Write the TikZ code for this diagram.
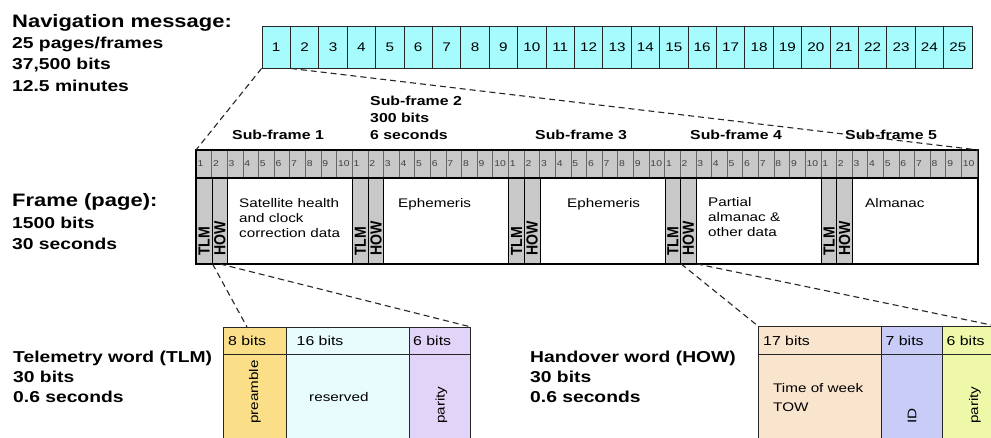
\documentclass[tikz,border=0pt]{standalone}
\usepackage{fontspec}
\setmainfont{Liberation Sans}[FakeStretch=1.22]
\newfontfamily\colfont{Liberation Sans}[FakeStretch=0.88]
\definecolor{topcyan}{HTML}{A6FBFC}
\definecolor{colgray}{HTML}{C8C8C8}
\definecolor{cPre}{HTML}{FADF88}
\definecolor{cRes}{HTML}{E8FCFD}
\definecolor{cTpar}{HTML}{E2D3F8}
\definecolor{cTow}{HTML}{F9E4CD}
\definecolor{cId}{HTML}{CACCF8}
\definecolor{cHpar}{HTML}{EEF8A8}
\begin{document}
\begin{tikzpicture}[x=1pt,y=-1pt,
  topcell/.style={draw=black!85, fill=topcyan, line width=0.9pt, minimum width=28.4pt, minimum height=42pt, inner sep=0pt, font=\fontsize{12.5}{14}\selectfont},
  numcell/.style={draw=black!60, fill=colgray, line width=0.6pt, minimum width=15.62pt, minimum height=28pt, inner ysep=0pt, inner xsep=1.5pt, text width=12.62pt, align=left, font=\fontsize{8.5}{10}\selectfont, text=black!75},
  hdrcol/.style={draw=black, fill=colgray, line width=0.9pt, minimum width=15.62pt, minimum height=85pt, inner sep=0pt, anchor=north west},
  dashline/.style={dash pattern=on 6pt off 4pt, line width=1.1pt, draw=black!85},
  titletext/.style={font=\bfseries\fontsize{18}{22}\selectfont, anchor=base west, inner sep=0pt},
  boldtext/.style={font=\bfseries\fontsize{15.8}{19}\selectfont, anchor=base west, inner sep=0pt},
  sublabel/.style={font=\bfseries\fontsize{13}{16}\selectfont, anchor=base west, inner sep=0pt},
  bodytext/.style={font=\fontsize{12.5}{15}\selectfont, anchor=base west, inner sep=0pt},
  bitstext/.style={font=\fontsize{13}{15}\selectfont, anchor=base west, inner sep=0pt},
  coltext/.style={font=\colfont\bfseries\fontsize{16}{18}\selectfont, rotate=90, anchor=base west, inner sep=0pt},
  rottext/.style={font=\fontsize{12.5}{15}\selectfont, rotate=90, anchor=west, inner sep=0pt},
  bitcell/.style={draw=black!85, line width=1.1pt, inner sep=0pt, anchor=north west}
]
\useasboundingbox (0,0) rectangle (991,437);
\clip (0,0) rectangle (991,437);
\fill[white] (0,0) rectangle (991,437);

% ---- left texts
\node[titletext] (navt) at (12,27) {Navigation message:};
\node[boldtext] (nav1) at (12,48) {25 pages/frames};
\node[boldtext] (nav2) at (12,69.5) {37,500 bits};
\node[boldtext] (nav3) at (12,91) {12.5 minutes};

\node[titletext] (frt) at (12,206.5) {Frame (page):};
\node[boldtext] (fr1) at (12,228) {1500 bits};
\node[boldtext] (fr2) at (12,249.5) {30 seconds};

\node[boldtext] (tl0) at (13,362) {Telemetry word (TLM)};
\node[boldtext] (tl1) at (13,382) {30 bits};
\node[boldtext] (tl2) at (13,402) {0.6 seconds};

\node[boldtext] (hw0) at (530,362) {Handover word (HOW)};
\node[boldtext] (hw1) at (530,382) {30 bits};
\node[boldtext] (hw2) at (530,402) {0.6 seconds};

% ---- top bar of 25 pages
\foreach \i in {1,...,25}
  \node[topcell] (p\i) at ({262+28.4*(\i-0.5)},47) {\i};

% ---- frame
\node[draw=black, fill=white, line width=1.5pt, minimum width=781pt, minimum height=113pt, inner sep=0pt, anchor=north west] (frame) at (196,150) {};
\foreach \s in {0,...,4}{
  \foreach \k in {1,...,10}
    \node[numcell] (n\s-\k) at ({196+156.2*\s+15.62*(\k-0.5)},164) {\k};
  \node[hdrcol] (tlm\s) at ({196+156.2*\s},178) {};
  \node[hdrcol] (how\s) at ({196+156.2*\s+15.62},178) {};
  \node[coltext] (tlmt\s) at ({196+156.2*\s+7.81+5.9},256) {TLM};
  \node[coltext] (howt\s) at ({196+156.2*\s+15.62+7.81+5.9},256) {HOW};
}
\draw[line width=1.2pt] (frame.west |- 0,178) -- (frame.east |- 0,178);
\draw[line width=1.5pt] (frame.north west) rectangle (frame.south east);

% ---- sub-frame labels
\node[sublabel] (sf1) at (232,139.5) {Sub-frame 1};
\node[sublabel] (sf2) at (370,105) {Sub-frame 2};
\node[sublabel] (sf2b) at (370,122.3) {300 bits};
\node[sublabel] (sf2c) at (370,139.5) {6 seconds};
\node[sublabel] (sf3) at (535,139.5) {Sub-frame 3};
\node[sublabel] (sf4) at (690,139.5) {Sub-frame 4};
\node[sublabel] (sf5) at (845,139.5) {Sub-frame 5};

% ---- frame contents
\node[bodytext] (c1a) at (239,207.5) {Satellite health};
\node[bodytext] (c1b) at (239,222.5) {and clock};
\node[bodytext] (c1c) at (239,237.5) {correction data};
\node[bodytext] (c2) at (398,207.5) {Ephemeris};
\node[bodytext] (c3) at (567,207.5) {Ephemeris};
\node[bodytext] (c4a) at (708,206.5) {Partial};
\node[bodytext] (c4b) at (708,221.5) {almanac \&};
\node[bodytext] (c4c) at (708,236.5) {other data};
\node[bodytext] (c5) at (865,207.5) {Almanac};

% ---- TLM word
\node[bitcell, fill=cPre, minimum width=63pt, minimum height=27pt] (preh) at (223,327) {};
\node[bitcell, fill=cRes, minimum width=123pt, minimum height=27pt] (resh) at (286,327) {};
\node[bitcell, fill=cTpar, minimum width=61pt, minimum height=27pt] (tparh) at (409,327) {};
\node[bitcell, fill=cPre, minimum width=63pt, minimum height=95pt] (preb) at (223,354) {};
\node[bitcell, fill=cRes, minimum width=123pt, minimum height=95pt] (resb) at (286,354) {};
\node[bitcell, fill=cTpar, minimum width=61pt, minimum height=95pt] (tparb) at (409,354) {};
\node[bitstext] (b8) at (228,345.5) {8 bits};
\node[bitstext] (b16) at (296.5,345.5) {16 bits};
\node[bitstext] (b6a) at (413,345.5) {6 bits};
\node[rottext] (tpre) at (255,424) {preamble};
\node[bodytext] (tres) at (309,401) {reserved};
\node[rottext] (tpar) at (441.5,424) {parity};

% ---- HOW word
\node[bitcell, fill=cTow, minimum width=123pt, minimum height=28pt] (towh) at (758,326) {};
\node[bitcell, fill=cId, minimum width=61pt, minimum height=28pt] (idh) at (881,326) {};
\node[bitcell, fill=cHpar, minimum width=53pt, minimum height=28pt] (hparh) at (942,326) {};
\node[bitcell, fill=cTow, minimum width=123pt, minimum height=95pt] (towb) at (758,354) {};
\node[bitcell, fill=cId, minimum width=61pt, minimum height=95pt] (idb) at (881,354) {};
\node[bitcell, fill=cHpar, minimum width=53pt, minimum height=95pt] (hparb) at (942,354) {};
\node[bitstext] (b17) at (763,345.5) {17 bits};
\node[bitstext] (b7) at (885.5,345.5) {7 bits};
\node[bitstext] (b6b) at (946.5,345.5) {6 bits};
\node[bodytext] (ttow1) at (773,392.5) {Time of week};
\node[bodytext] (ttow2) at (773,411.5) {TOW};
\node[rottext] (tid) at (912,424) {ID};
\node[rottext] (thpar) at (975,424) {parity};

% ---- dashed connectors
\coordinate (tlmA) at (247,327);
\draw[dashline] (p1.south west) -- (frame.north west);
\draw[dashline] (p1.south east) -- (frame.north east);
\draw[dashline] (tlm0.south east) -- (tlmA);
\draw[dashline] (how0.south) -- (tparh.north east);
\draw[dashline] (tlm3.south east) -- (towh.north west);
\draw[dashline] (how3.south east) -- (hparh.north east);
\end{tikzpicture}
\end{document}
